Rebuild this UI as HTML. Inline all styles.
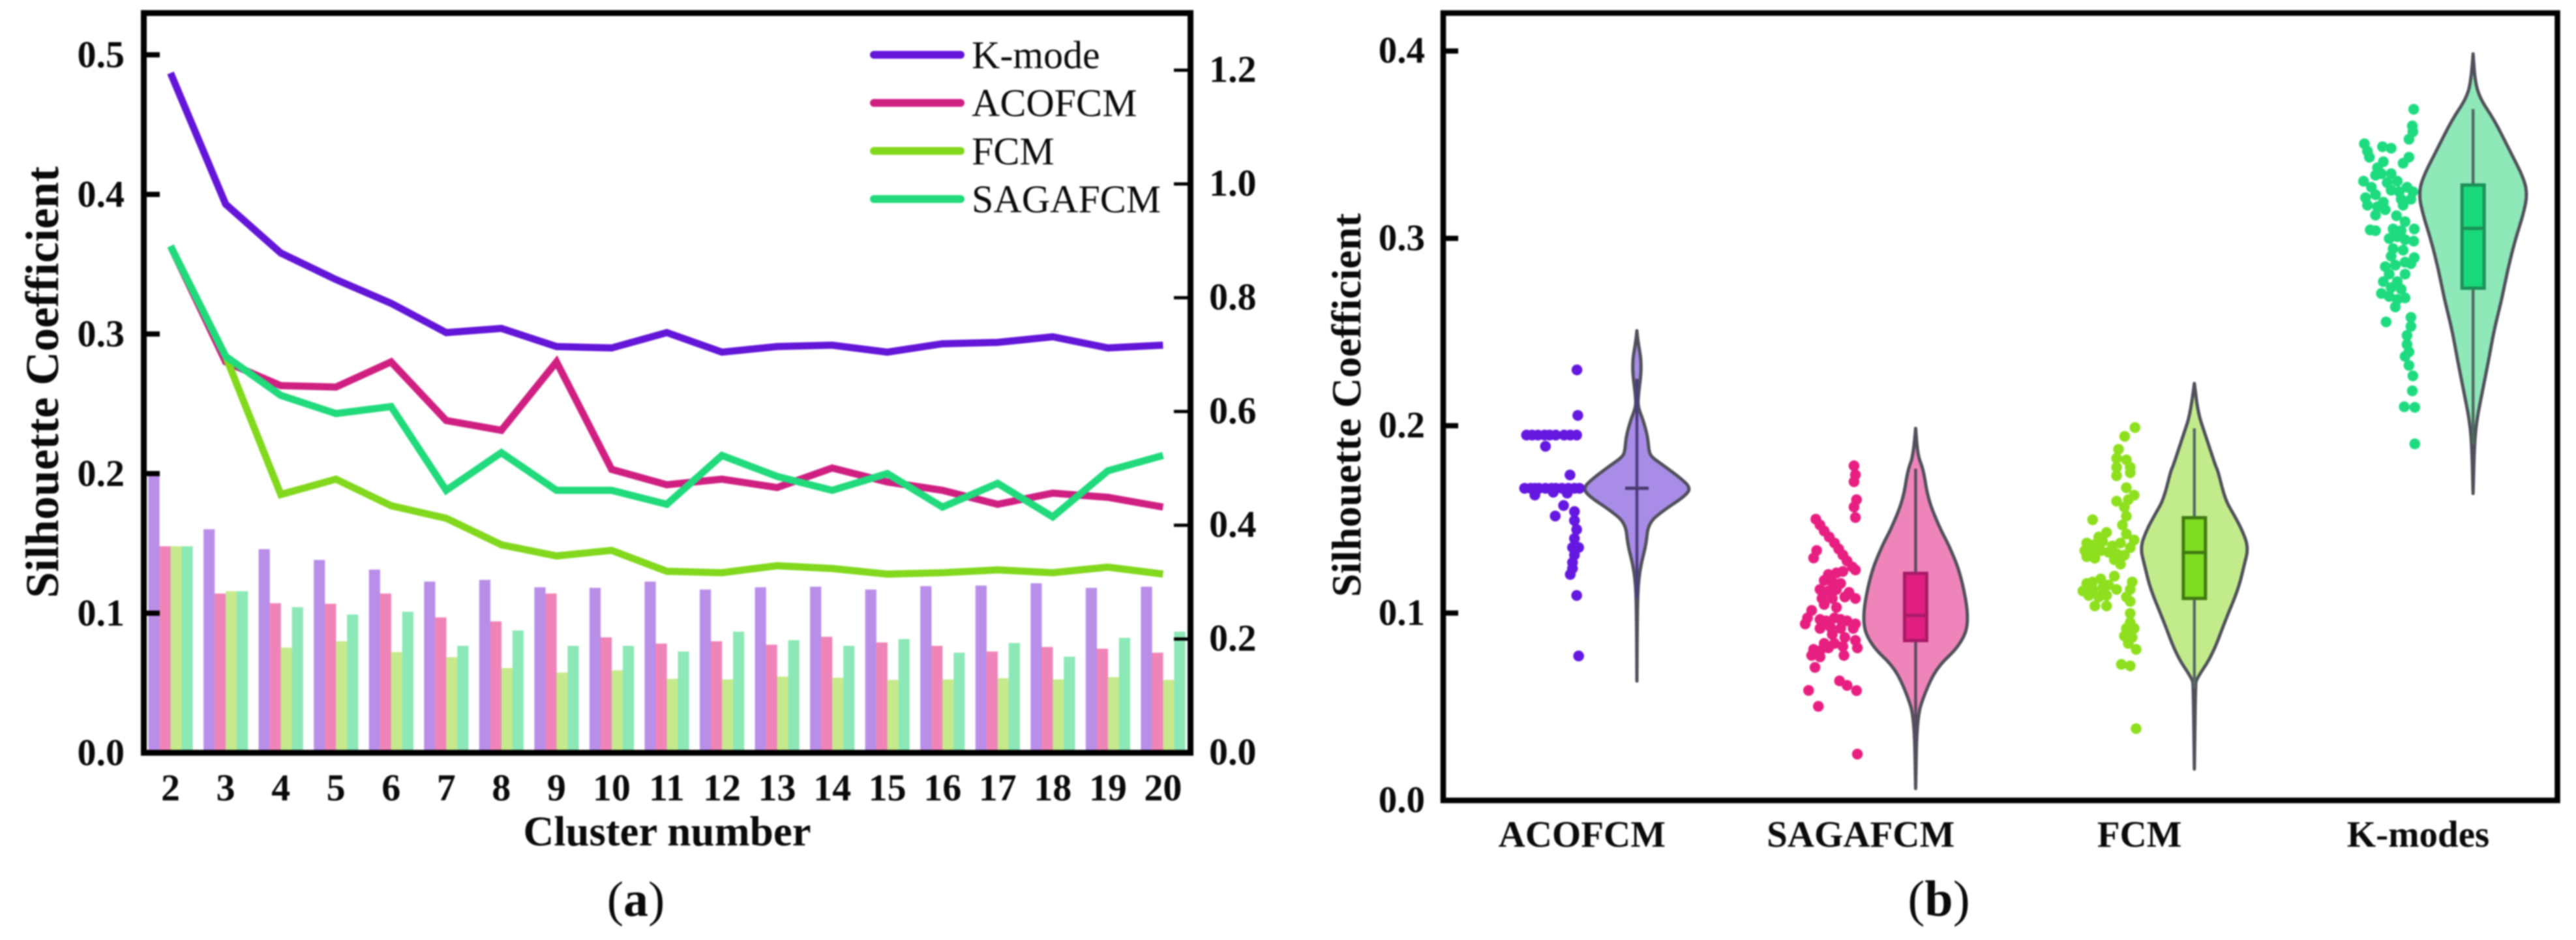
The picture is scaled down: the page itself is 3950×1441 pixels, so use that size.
<!DOCTYPE html>
<html lang="en">
<head>
<meta charset="utf-8">
<title>Silhouette Coefficient comparison</title>
<style>
html,body{margin:0;padding:0;background:#fff;width:3950px;height:1441px;overflow:hidden}
svg{display:block;filter:blur(1.1px)}
text{font-family:"Liberation Serif",serif;fill:#0a0a0a}
.b{font-weight:bold}
</style>
</head>
<body>
<svg id="figure" xmlns="http://www.w3.org/2000/svg" width="3950" height="1441" viewBox="0 0 3950 1441">
  <g id="panel-a"></g>
  <g id="panel-b"></g>
  <text x="975" y="1404" text-anchor="middle" font-size="76">(<tspan class="b">a</tspan>)</text>
  <text x="2973" y="1404" text-anchor="middle" font-size="78">(<tspan class="b">b</tspan>)</text>
</svg>
<script>
/* ---------- Panel (a) data ---------- */
const clusterNumbers = [2,3,4,5,6,7,8,9,10,11,12,13,14,15,16,17,18,19,20];
const kMode   = [.487,.393,.358,.339,.322,.301,.304,.291,.290,.301,.287,.291,.292,.287,.293,.294,.298,.290,.292];
const acofcm  = [.363,.280,.263,.262,.280,.238,.231,.280,.203,.192,.196,.190,.204,.194,.188,.178,.186,.183,.176];
const fcm     = [.363,.284,.185,.196,.177,.168,.149,.141,.145,.130,.129,.134,.132,.128,.129,.131,.129,.133,.128];
const sagafcm = [.363,.284,.256,.243,.248,.188,.215,.188,.188,.178,.213,.198,.188,.200,.176,.193,.169,.202,.213];
const seriesNames = ["K-mode","ACOFCM","FCM","SAGAFCM"];
const leftTicks  = [0,.1,.2,.3,.4,.5];
const rightTicks = [0,.2,.4,.6,.8,1.0,1.2];

/* ---------- Panel (b) data ---------- */
const violinNames = ["ACOFCM","SAGAFCM","FCM","K-modes"];
const yTicksB = [0,.1,.2,.3,.4];

const acoGrid    = [.2507,.2458,.2322,.2148,.2096,.2026,.194,.187,.1835,.179,.172,.1666,.162,.155,.148,.1365,.1254,.1142,.0965,.0637];
const acoDensity = [0,.015,.096,.02,.025,.12,.20,.22,.26,.48,.81,1,.87,.50,.21,.17,.07,.02,.006,0];
const sagaGrid    = [.1986,.184,.1765,.1605,.1445,.1365,.1205,.095,.0823,.071,.0567,.0439,.0063];
const sagaDensity = [0,.04,.145,.23,.46,.61,.84,1,.81,.39,.16,.025,0];
const fcmGrid    = [.2226,.2066,.1954,.1778,.1765,.1605,.1525,.1445,.135,.1254,.1126,.0966,.0774,.0648,.0616,.0167];
const fcmDensity = [0,.07,.2,.40,.43,.57,.73,.88,1,.92,.81,.58,.33,.04,.02,0];
const kmGrid    = [.3985,.384,.3745,.3633,.3473,.3313,.3225,.3121,.2993,.2834,.2674,.2514,.2354,.2194,.2034,.1906,.1638];
const kmDensity = [0,.035,.13,.39,.67,.95,1,.92,.78,.64,.53,.39,.29,.18,.07,.025,0];

/* box stats: q1, median, q3, whisker low, whisker high */
const acoBox  = [.1666,.1666,.1666,.108,.225];
const sagaBox = [.0853,.0987,.1212,.030,.177];
const fcmBox  = [.1078,.1323,.1509,.060,.1986];
const kmBox   = [.2734,.3053,.3285,.190,.369];

/* swarm points: value, and jitter in category units */
const acoValues = [.2298,.2055,.195,.195,.195,.195,.195,.195,.195,.195,.195,.189,.1737,.1666,.1666,.1666,.1666,.1666,.1666,.1666,.1666,.1666,.1666,.1666,.163,.1645,.164,.1574,.1518,.1542,.1494,.1446,.1398,.135,.135,.131,.127,.1238,.1206,.1094,.0771];
const acoJitter = [-.215,-.212,-.396,-.376,-.355,-.331,-.313,-.291,-.261,-.239,-.216,-.328,-.24,-.403,-.381,-.366,-.351,-.328,-.306,-.291,-.269,-.246,-.224,-.206,-.366,-.3,-.25,-.263,-.293,-.224,-.224,-.216,-.224,-.231,-.209,-.224,-.231,-.231,-.239,-.216,-.209];
const sagaValues = [.1786,.1738,.1701,.1605,.1566,.151,.1501,.147,.1438,.1406,.1374,.1342,.131,.1278,.1246,.123,.1334,.1294,.1206,.1214,.1222,.1174,.1166,.1158,.1126,.1118,.1126,.111,.1078,.1078,.1078,.1086,.1046,.103,.1014,.0974,.0942,.0966,.0958,.0974,.0966,.0958,.0942,.0918,.0926,.0918,.0918,.0886,.087,.0854,.0838,.0838,.0822,.0814,.0806,.0798,.0814,.0774,.0766,.0774,.071,.0638,.0614,.0586,.0587,.0502,.0247];
const sagaJitter = [-.221,-.216,-.221,-.212,-.221,-.216,-.358,-.343,-.328,-.31,-.291,-.276,-.261,-.246,-.227,-.216,-.355,-.366,-.313,-.284,-.261,-.328,-.299,-.269,-.343,-.313,-.284,-.239,-.216,-.336,-.299,-.254,-.328,-.284,-.373,-.388,-.396,-.343,-.321,-.291,-.269,-.246,-.216,-.343,-.306,-.269,-.224,-.299,-.254,-.216,-.328,-.291,-.261,-.209,-.366,-.343,-.313,-.373,-.343,-.257,-.361,-.273,-.246,-.212,-.384,-.349,-.209];
const fcmValues = [.199,.1943,.1874,.1826,.1818,.1778,.1778,.1733,.1749,.1669,.1629,.1605,.1597,.1565,.1517,.1498,.147,.143,.1406,.1422,.139,.1374,.1366,.1382,.1358,.1374,.1349,.1333,.1325,.1333,.1325,.1317,.1309,.1301,.1293,.1285,.1261,.1197,.1182,.1166,.1158,.115,.1166,.1118,.1126,.1134,.1126,.1126,.1094,.1086,.1094,.1086,.1038,.1038,.1062,.0998,.095,.0918,.0918,.0878,.087,.0838,.0806,.0726,.0718,.0383];
const fcmJitter = [-.213,-.25,-.272,-.279,-.244,-.279,-.23,-.279,-.23,-.244,-.216,-.237,-.279,-.251,-.244,-.365,-.258,-.315,-.343,-.244,-.216,-.386,-.357,-.329,-.294,-.265,-.23,-.393,-.365,-.336,-.308,-.279,-.251,-.386,-.357,-.287,-.265,-.287,-.336,-.365,-.386,-.308,-.223,-.4,-.365,-.329,-.279,-.23,-.379,-.343,-.315,-.244,-.357,-.315,-.23,-.23,-.23,-.244,-.216,-.251,-.223,-.237,-.209,-.262,-.23,-.209];
const kmValues = [.3689,.36,.3569,.3529,.3505,.3489,.3481,.3465,.3433,.3433,.3401,.3409,.3377,.3345,.3345,.3305,.3337,.3305,.3273,.3297,.3273,.3257,.3249,.3249,.3217,.3233,.3209,.3209,.3193,.3177,.3169,.3177,.3153,.3124,.3121,.3089,.3045,.3041,.305,.3041,.305,.2999,.3009,.2993,.2985,.2945,.2937,.2905,.2897,.2873,.2849,.2857,.2865,.2809,.2809,.2769,.2769,.2737,.2706,.2729,.269,.2682,.2674,.2634,.2578,.2554,.253,.2482,.2434,.2394,.237,.2322,.2266,.2186,.2101,.2098,.1903];
const kmJitter = [-.213,-.218,-.216,-.23,-.39,-.325,-.294,-.379,-.372,-.23,-.251,-.322,-.343,-.329,-.294,-.393,-.35,-.272,-.365,-.308,-.237,-.294,-.265,-.216,-.386,-.35,-.258,-.223,-.322,-.379,-.343,-.251,-.315,-.35,-.275,-.244,-.369,-.35,-.287,-.258,-.211,-.301,-.272,-.244,-.213,-.287,-.251,-.294,-.211,-.244,-.315,-.279,-.223,-.301,-.244,-.322,-.272,-.294,-.329,-.258,-.301,-.244,-.272,-.279,-.223,-.312,-.223,-.237,-.237,-.23,-.244,-.23,-.216,-.218,-.247,-.209,-.209];

/* ---------- Axis functions & drawing ---------- */
const NS = "http://www.w3.org/2000/svg";
function mk(parent, tag, attrs, txt) {
  const el = document.createElementNS(NS, tag);
  for (const k in attrs) el.setAttribute(k, attrs[k]);
  if (txt !== undefined) el.textContent = txt;
  parent.appendChild(el);
  return el;
}
const lineColors = ["#6416d8","#cf2082","#82d81c","#20da7c"];
const barColors  = ["#b98ee8","#ef84b8","#c6e98c","#8ce8b6"];
const violinFill = ["#a98ce8","#ef84ba","#c2ec8c","#8ee8b8"];
const boxFill    = ["#7a3ee0","#e01f80","#7fdc22","#18d97a"];
const boxEdge    = ["#4a3a70","#a81a68","#3f7a10","#1c9058"];
const whiskerColors = ["#4d3a80","#5a4a60","#566a66","#4f6a60"];
const dotColors  = ["#6418e0","#e61f80","#8ee01e","#1edb80"];

/* panel a */
const A = document.getElementById("panel-a");
const xA = c => 261.5 + (c - 2) * 84.55;
const yLeft = v => 1154 - v * 2140;
const yRight = v => 1154 - v * 872;
const allSeries = [kMode, acofcm, fcm, sagafcm];

allSeries.forEach((vals, s) => {
  vals.forEach((v, i) => {
    const bar = mk(A, "rect", {x: xA(clusterNumbers[i]) - 34 + s * 17, y: yRight(v), width: 17.2, height: 1154 - yRight(v), fill: barColors[s]});
    
    
  });
});
allSeries.forEach((vals, s) => {
  const pts = vals.map((v, i) => xA(clusterNumbers[i]) + "," + yLeft(v)).join(" ");
  const line = mk(A, "polyline", {points: pts, fill: "none", stroke: lineColors[s], "stroke-width": 11, "stroke-linejoin": "miter"});
  
  
});
const frameA = mk(A, "rect", {x: 220.5, y: 20, width: 1605, height: 1134, fill: "none", stroke: "#000", "stroke-width": 9});



leftTicks.forEach(v => {
  const t = mk(A, "rect", {x: 224, y: yLeft(v) - 4, width: 21, height: 8, fill: "#000"});
  
  
  const l = mk(A, "text", {x: 191, y: yLeft(v) + 19, "text-anchor": "end", "font-size": 58, class: "b"}, v.toFixed(1));
  
  
});
rightTicks.forEach(v => {
  if (v > 0) {
    const t = mk(A, "rect", {x: 1800, y: yRight(v) - 2.5, width: 21, height: 5, fill: "#000"});
    
    
  }
  const l = mk(A, "text", {x: 1854, y: yRight(v) + 18, "font-size": 58, class: "b"}, v.toFixed(1));
  
  
});
clusterNumbers.forEach(c => {
  const l = mk(A, "text", {x: xA(c), y: 1227, "text-anchor": "middle", "font-size": 58, class: "b"}, String(c));
  
  
});
const xTitleA = mk(A, "text", {x: 1023, y: 1296, "text-anchor": "middle", "font-size": 65, class: "b"}, "Cluster number");


const yTitleA = mk(A, "text", {transform: "translate(89 586) rotate(-90)", "text-anchor": "middle", "font-size": 72, class: "b"}, "Silhouette Coefficient");



seriesNames.forEach((name, s) => {
  const ly = 84 + s * 73.7;
  const sw = mk(A, "line", {x1: 1340, x2: 1473, y1: ly, y2: ly, stroke: lineColors[s], "stroke-width": 12, "stroke-linecap": "round"});
  
  
  const tx = mk(A, "text", {x: 1490, y: ly + 20.5, "font-size": 60}, name);
  
  
});

/* panel b */
const B = document.getElementById("panel-b");
const xB = i => 2510 + i * 427.4;
const yB = v => 1227 - v * 2872;
const halfW = d => d * 83;

function violinPath(cx, grid, dens) {
  const pts = [];
  grid.forEach((v, i) => pts.push([cx - halfW(dens[i]), yB(v)]));
  for (let i = grid.length - 1; i >= 0; i--) pts.push([cx + halfW(dens[i]), yB(grid[i])]);
  let d = "M" + pts[0][0] + " " + pts[0][1];
  for (let i = 1; i < pts.length - 1; i++) {
    const mx = (pts[i][0] + pts[i + 1][0]) / 2, my = (pts[i][1] + pts[i + 1][1]) / 2;
    d += " Q" + pts[i][0] + " " + pts[i][1] + " " + mx + " " + my;
  }
  d += " L" + pts[pts.length - 1][0] + " " + pts[pts.length - 1][1] + "Z";
  return d;
}
const grids = [acoGrid, sagaGrid, fcmGrid, kmGrid];
const densities = [acoDensity, sagaDensity, fcmDensity, kmDensity];
const boxes = [acoBox, sagaBox, fcmBox, kmBox];
const swarmV = [acoValues, sagaValues, fcmValues, kmValues];
const swarmJ = [acoJitter, sagaJitter, fcmJitter, kmJitter];

violinNames.forEach((name, i) => {
  const cx = xB(i), key = name.toLowerCase();
  const vio = mk(B, "path", {d: violinPath(cx, grids[i], densities[i]), fill: violinFill[i], stroke: "#50505a", "stroke-width": 5, "stroke-linejoin": "round"});
  
  
  const [q1, med, q3, lo, hi] = boxes[i];
  const wh = mk(B, "line", {x1: cx, x2: cx, y1: yB(hi), y2: yB(lo), stroke: whiskerColors[i], "stroke-width": 4.5});
  
  
  if (q3 > q1) {
    const box = mk(B, "rect", {x: cx - 17, y: yB(q3), width: 34, height: yB(q1) - yB(q3), fill: boxFill[i], stroke: boxEdge[i], "stroke-width": 5});
    
    
  }
  const mLine = mk(B, "line", {x1: cx - 18, x2: cx + 18, y1: yB(med), y2: yB(med), stroke: boxEdge[i], "stroke-width": 5});
  
  
  swarmV[i].forEach((v, k) => {
    const dot = mk(B, "circle", {cx: xB(i + swarmJ[i][k]), cy: yB(v), r: 8.3, fill: dotColors[i]});
    
    
  });
});

const frameB = mk(B, "rect", {x: 2213, y: 20, width: 1708.5, height: 1207, fill: "none", stroke: "#000", "stroke-width": 8.5});



yTicksB.forEach(v => {
  if (v > 0) {
    const t = mk(B, "rect", {x: 2217, y: yB(v) - 4, width: 19, height: 8, fill: "#000"});
    
    
  }
  const l = mk(B, "text", {x: 2185, y: yB(v) + 18, "text-anchor": "end", "font-size": 57, class: "b"}, v.toFixed(1));
  
  
});
violinNames.forEach((name, i) => {
  const l = mk(B, "text", {x: xB(i - 0.197), y: 1298, "text-anchor": "middle", "font-size": 57, class: "b"}, name);
  
  
});
const yTitleB = mk(B, "text", {transform: "translate(2086 621) rotate(-90)", "text-anchor": "middle", "font-size": 64, class: "b"}, "Silhouette Coefficient");


</script>
</body>
</html>
